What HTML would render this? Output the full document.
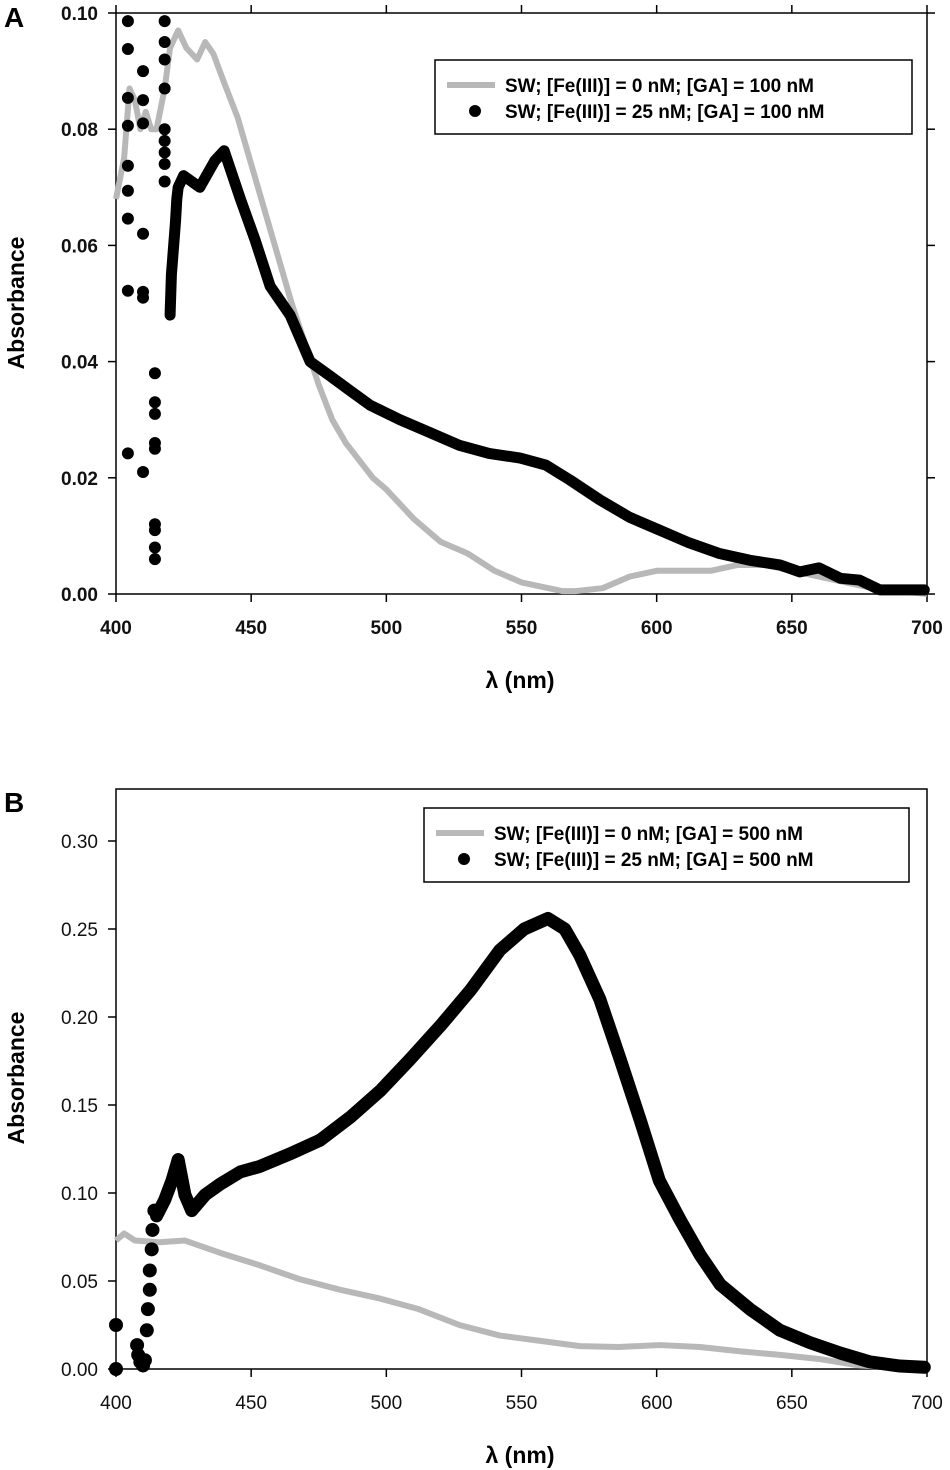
<!DOCTYPE html>
<html><head><meta charset="utf-8">
<style>
html,body{margin:0;padding:0;background:#fff;}
svg{display:block;font-family:"Liberation Sans",Arial,sans-serif;}
</style></head>
<body>
<svg id="fig" width="950" height="1470" viewBox="0 0 950 1470"></svg>
<script>
// Panel A data
const aGrayX=[400,403,405,407,409,411,413,415,418,420,423,426,430,433,436,440,445,450,455,460,465,470,475,480,485,490,495,500,510,520,530,540,550,560,565,570,580,590,600,610,620,630,640,650,660,670,680,690,700];
const aGrayY=[0.068,0.075,0.087,0.085,0.080,0.083,0.080,0.080,0.087,0.094,0.097,0.094,0.092,0.095,0.093,0.088,0.082,0.074,0.066,0.058,0.050,0.043,0.036,0.030,0.026,0.023,0.020,0.018,0.013,0.009,0.007,0.004,0.002,0.001,0.0005,0.0005,0.001,0.003,0.004,0.004,0.004,0.005,0.005,0.004,0.003,0.002,0.001,0.0005,0.0];
const aDotX=[404.4,404.4,404.4,404.4,404.4,404.4,404.4,404.4,404.4,410,410,410,410,410,410,410,414.4,414.4,414.4,414.4,414.4,414.4,414.4,414.4,414.4,418,418,418,418,418,418,418,418,418];
const aDotY=[0.0986,0.0938,0.0854,0.0806,0.0737,0.0694,0.0646,0.0522,0.0242,0.090,0.085,0.081,0.062,0.052,0.051,0.021,0.038,0.033,0.031,0.026,0.025,0.012,0.011,0.008,0.006,0.0986,0.095,0.092,0.087,0.080,0.078,0.076,0.074,0.071];
const aBlackX=[420,420.5,421,421.5,422,422.5,423,425,431,436.6,440,446,451.4,457,464.4,471.8,479,486.6,494,505,516,527,538,549.5,559,568,579,590,601,612,623,634.5,645.6,653,660,668,675,682.6,690,699];
const aBlackY=[0.048,0.055,0.058,0.061,0.064,0.068,0.070,0.072,0.070,0.0746,0.0763,0.068,0.061,0.053,0.048,0.040,0.0376,0.035,0.0325,0.030,0.0278,0.0256,0.0242,0.0234,0.0222,0.0196,0.0162,0.0132,0.011,0.0088,0.007,0.0058,0.005,0.0038,0.0045,0.0027,0.0024,0.0007,0.0007,0.0007];
const aYTicks=["0.00","0.02","0.04","0.06","0.08","0.10"];
const xTicks=["400","450","500","550","600","650","700"];
// Panel B data
const bGrayX=[400,403,407,416,425.5,438.5,453,468,483,497.7,512,527,542,557,571.6,586,601,616,631,645.6,660,675,690,699];
const bGrayY=[0.073,0.077,0.073,0.072,0.073,0.066,0.059,0.051,0.045,0.040,0.034,0.025,0.019,0.016,0.013,0.0125,0.0136,0.0125,0.010,0.008,0.0057,0.002,0.0008,0.0003];
const bDotX=[400,400,407.8,408.2,409,410,410.7,411.4,411.8,412.5,412.5,413.2,413.5,414.2];
const bDotY=[0.025,0.0,0.0136,0.008,0.004,0.002,0.005,0.022,0.034,0.045,0.056,0.068,0.079,0.090];
const bBlackX=[415,418,420.7,423,425.5,428,433,438.5,446,453,464,475.5,486.6,497.7,508.8,520,531,542,551,559.8,566,571.6,579,586.5,594,601,608.6,616,623.5,634.5,645.6,656.7,668,679,690,699];
const bBlackY=[0.087,0.096,0.107,0.119,0.099,0.090,0.099,0.105,0.112,0.115,0.122,0.130,0.143,0.158,0.176,0.195,0.215,0.238,0.250,0.256,0.250,0.235,0.210,0.176,0.141,0.107,0.085,0.065,0.048,0.034,0.022,0.015,0.009,0.004,0.0017,0.001];
const bYTicks=["0.00","0.05","0.10","0.15","0.20","0.25","0.30"];

const NS="http://www.w3.org/2000/svg";
const svg=document.getElementById('fig');
function mk(tag,attrs,parent,text){const e=document.createElementNS(NS,tag);for(const k in attrs)e.setAttribute(k,attrs[k]);if(text!==undefined)e.textContent=text;(parent||svg).appendChild(e);return e;}

function panel(o){
  const g=mk('g',{});
  
  
  const sx=v=>116+(v-400)*(927-116)/300;
  const sy=v=>o.y0-(v/o.ymax)*(o.y0-o.yTop);
  // frame
  const fr=mk('rect',{x:116,y:o.frameTop,width:811,height:o.y0-o.frameTop,fill:'none',stroke:'#000','stroke-width':1.5},g);
  
  
  // letter
  const L=mk('text',{x:4,y:o.letterY,'font-size':28,'font-weight':'bold'},g,o.letter);
  
  
  // y ticks
  o.yticks.forEach(t=>{
    const y=sy(parseFloat(t));
    mk('line',{x1:108,x2:116,y1:y,y2:y,stroke:'#000','stroke-width':1.5},g);
    if(o.rightTicks) mk('line',{x1:927,x2:935,y1:y,y2:y,stroke:'#000','stroke-width':1.5},g);
    const tx=mk('text',{x:98,y:y+7,'font-size':19,'text-anchor':'end','font-weight':o.bold?'bold':'normal',fill:'#111'},g,t);
    
    
  });
  xTicks.forEach(t=>{
    const x=sx(parseFloat(t));
    mk('line',{x1:x,x2:x,y1:o.y0,y2:o.y0+8,stroke:'#000','stroke-width':1.5},g);
    if(o.topTicks) mk('line',{x1:x,x2:x,y1:o.frameTop,y2:o.frameTop-8,stroke:'#000','stroke-width':1.5},g);
    const tx=mk('text',{x:x,y:o.y0+40,'font-size':19,'text-anchor':'middle','font-weight':o.bold?'bold':'normal',fill:'#111'},g,t);
    
    
  });
  const xt=mk('text',{x:520,y:o.y0+94,'font-size':23,'text-anchor':'middle','font-weight':'bold'},g,'λ (nm)');
  
  
  const yt=mk('text',{x:0,y:0,'font-size':23,'text-anchor':'middle','font-weight':'bold',transform:`translate(24,${o.ytitleY}) rotate(-90)`},g,'Absorbance');
  
  
  // gray line
  const gp=mk('polyline',{points:o.gx.map((v,i)=>sx(v)+','+sy(o.gy[i])).join(' '),fill:'none',stroke:'#b8b8b8','stroke-width':6,'stroke-linejoin':'round'},g);
  
  
  // black dense
  const bp=mk('polyline',{points:o.bx.map((v,i)=>sx(v)+','+sy(o.by[i])).join(' '),fill:'none',stroke:'#000','stroke-width':o.bw,'stroke-linejoin':'round','stroke-linecap':'round'},g);
  
  
  o.dx.forEach((v,i)=>{
    const c=mk('circle',{cx:sx(v),cy:sy(o.dy[i]),r:o.bw/2+0.5,fill:'#000'},g);
    
    
  });
  // legend
  const lg=mk('g',{},g);
  
  
  mk('rect',{x:o.lx,y:o.ly,width:o.lw,height:74,fill:'#fff',stroke:'#000','stroke-width':1.5},lg);
  mk('line',{x1:o.lx+12,x2:o.lx+60,y1:o.ly+25,y2:o.ly+25,stroke:'#b8b8b8','stroke-width':6},lg);
  mk('circle',{cx:o.lx+40,cy:o.ly+51,r:6,fill:'#000'},lg);
  const t1=mk('text',{x:o.lx+70,y:o.ly+32,'font-size':19,'font-weight':'bold'},lg,o.l1);
  
  
  const t2=mk('text',{x:o.lx+70,y:o.ly+58,'font-size':19,'font-weight':'bold'},lg,o.l2);
  
  
}
panel({name:'panel-a',letter:'A',letterY:27,frameTop:13,yTop:13,y0:594,ymax:0.10,yticks:aYTicks,bold:true,rightTicks:true,topTicks:true,ytitleY:303,
  gx:aGrayX,gy:aGrayY,bx:aBlackX,by:aBlackY,dx:aDotX,dy:aDotY,bw:11,
  lx:435,ly:60,lw:477,l1:'SW; [Fe(III)] = 0 nM; [GA] = 100 nM',l2:'SW; [Fe(III)] = 25 nM; [GA] = 100 nM'});
panel({name:'panel-b',letter:'B',letterY:812,frameTop:789,yTop:841,y0:1369,ymax:0.30,yticks:bYTicks,bold:false,rightTicks:false,topTicks:false,ytitleY:1078,
  gx:bGrayX,gy:bGrayY,bx:bBlackX,by:bBlackY,dx:bDotX,dy:bDotY,bw:13,
  lx:424,ly:808,lw:485,l1:'SW; [Fe(III)] = 0 nM; [GA] = 500 nM',l2:'SW; [Fe(III)] = 25 nM; [GA] = 500 nM'});
</script>
</body></html>
